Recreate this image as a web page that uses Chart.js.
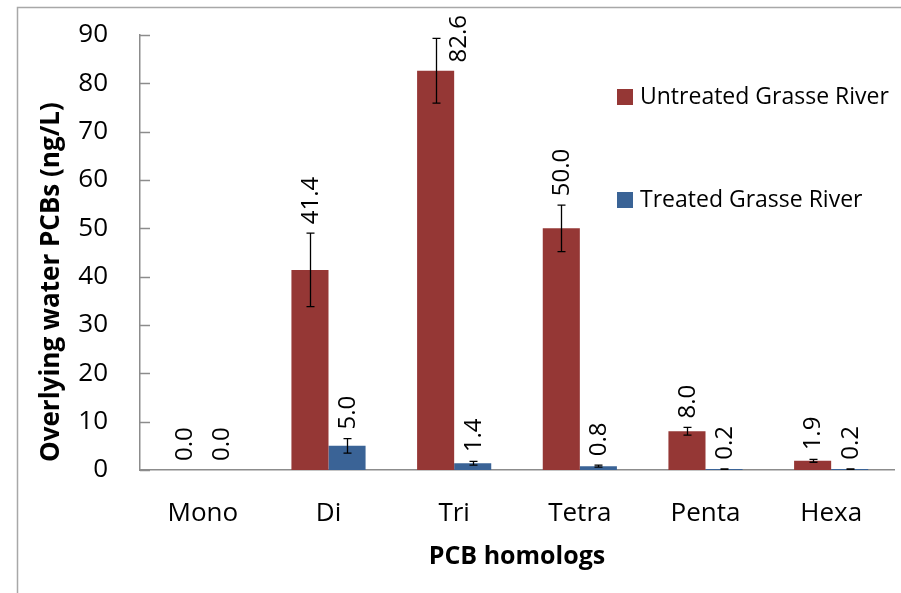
<!DOCTYPE html>
<html>
<head>
<meta charset="utf-8">
<script src="https://cdn.jsdelivr.net/npm/chart.js@4.4.0/dist/chart.umd.min.js"></script>
<style>
    html, body { margin: 0; padding: 0; background: #fff; }
    #wrap { width: 901px; height: 593px; position: relative; }
</style>
</head>
<body>
<div id="wrap"><canvas id="pcbChart"></canvas></div>
<script>
// ===== Data =====
const homologs = ['Mono', 'Di', 'Tri', 'Tetra', 'Penta', 'Hexa'];
const untreated = [0.0, 41.4, 82.6, 50.0, 8.0, 1.9];
const untreatedErr = [0, 7.6, 6.7, 4.8, 0.8, 0.3];
const treated = [0.0, 5.0, 1.4, 0.8, 0.2, 0.2];
const treatedErr = [0, 1.5, 0.4, 0.2, 0.05, 0.05];
const yTicks = [0, 10, 20, 30, 40, 50, 60, 70, 80, 90];
const yTitle = 'Overlying water PCBs (ng/L)';

const FONT = '"Open Sans", "Noto Sans", sans-serif';
const RED = '#953735';
const BLUE = '#3a6396';
const AXIS = '#8c8c8c';

// grey frame (left + top edge of the original picture)
const framePlugin = {
    id: 'frame',
    beforeDraw(chart) {
        const c = chart.ctx;
        c.save();
        c.strokeStyle = '#a8a8a8';
        c.lineWidth = 1.5;
        c.beginPath();
        c.moveTo(17.5, chart.height);
        c.lineTo(17.5, 7.5);
        c.lineTo(chart.width, 7.5);
        c.stroke();
        c.restore();
    }
};

// short tick marks pointing into the plot + y title
const innerTicks = {
    id: 'innerTicks',
    afterDraw(chart) {
        const y = chart.scales.y;
        const c = chart.ctx;
        c.save();
        c.strokeStyle = AXIS;
        c.lineWidth = 1.5;
        yTicks.forEach(v => {
            const py = Math.round(y.getPixelForValue(v)) + 0.5;
            c.beginPath();
            c.moveTo(chart.chartArea.left, py);
            c.lineTo(chart.chartArea.left + 10, py);
            c.stroke();
        });
        // axis title sits a bit lower than the plot middle in the original
        c.translate(52, chart.chartArea.bottom - 8);
        c.rotate(-Math.PI / 2);
        c.font = 'bold 26px ' + FONT;
        c.fillStyle = '#000';
        c.textAlign = 'left';
        c.textBaseline = 'middle';
        c.fillText(yTitle, 0, 0);
        c.restore();
    }
};

// error bars + rotated value labels
const errLabels = {
    id: 'errLabels',
    afterDatasetsDraw(chart) {
        const c = chart.ctx;
        const y = chart.scales.y;
        const errs = [untreatedErr, treatedErr];
        c.save();
        chart.data.datasets.forEach((ds, di) => {
            chart.getDatasetMeta(di).data.forEach((bar, i) => {
                const v = ds.data[i];
                const e = errs[di][i];
                let top = y.getPixelForValue(v);
                if (e > 0) {
                    const y1 = y.getPixelForValue(v + e);
                    const y2 = y.getPixelForValue(v - e);
                    const x = Math.round(bar.x) + 0.5;
                    c.strokeStyle = '#000';
                    c.lineWidth = 1.3;
                    c.beginPath();
                    c.moveTo(x, y1); c.lineTo(x, y2);
                    c.moveTo(x - 4, y1); c.lineTo(x + 4, y1);
                    c.moveTo(x - 4, y2); c.lineTo(x + 4, y2);
                    c.stroke();
                    top = y1;
                }
                const txt = v.toFixed(1);
                c.font = '24px ' + FONT;
                c.fillStyle = '#000';
                const w = c.measureText(txt).width;
                let lx = bar.x;
                let ly = top - 9;
                if (ly - w < 10) { // no room above: push it aside
                    ly = 15 + w;
                    lx = bar.x + 23;
                }
                c.save();
                c.translate(lx, ly);
                c.rotate(-Math.PI / 2);
                c.textAlign = 'left';
                c.textBaseline = 'middle';
                c.fillText(txt, 0, 1);
                c.restore();
            });
        });
        c.restore();
    }
};

// legend inside the plot, on the right
const sideLegend = {
    id: 'sideLegend',
    afterDraw(chart) {
        const c = chart.ctx;
        c.save();
        c.font = '23px ' + FONT;
        c.textBaseline = 'middle';
        c.fillStyle = '#000';
        chart.data.datasets.forEach((ds, i) => {
            const cy = 97 + i * 103;
            c.fillStyle = ds.backgroundColor;
            c.fillRect(617, cy - 8, 16, 16);
            c.fillStyle = '#000';
            c.fillText(ds.label, 640, cy);
        });
        c.restore();
    }
};

const ctx = document.getElementById('pcbChart');
new Chart(ctx, {
    type: 'bar',
    data: {
        labels: homologs,
        datasets: [{
            label: 'Untreated Grasse River',
            data: untreated,
            backgroundColor: RED,
            barPercentage: 1,
            categoryPercentage: 0.59
        }, {
            label: 'Treated Grasse River',
            data: treated,
            backgroundColor: BLUE,
            barPercentage: 1,
            categoryPercentage: 0.59
        }]
    },
    options: {
        responsive: true,
        maintainAspectRatio: false,
        animation: false,
        layout: { padding: { left: 0, top: 6, right: 7, bottom: 0 } },
        plugins: { legend: { display: false }, tooltip: { enabled: false } },
        scales: {
            x: {
                grid: { display: false },
                border: { display: true, color: AXIS, width: 1.5 },
                ticks: { color: '#000', font: { family: FONT, size: 26 }, padding: 20 },
                title: {
                    display: true, text: 'PCB homologs', color: '#000',
                    font: { family: FONT, size: 25, weight: 'bold' },
                    padding: { top: 0, bottom: 21 }
                },
                afterFit(scale) { scale.height = 123; }
            },
            y: {
                min: 0, max: 90,
                afterBuildTicks(scale) { scale.ticks = yTicks.map(v => ({ value: v })); },
                grid: { display: false },
                border: { display: true, color: AXIS, width: 1.5 },
                ticks: { color: '#000', font: { family: FONT, size: 26, lineHeight: 0.85 }, padding: 24 },
                afterFit(scale) { scale.width = 140; }
            }
        }
    },
    plugins: [framePlugin, innerTicks, errLabels, sideLegend]
});
</script>
</body>
</html>
